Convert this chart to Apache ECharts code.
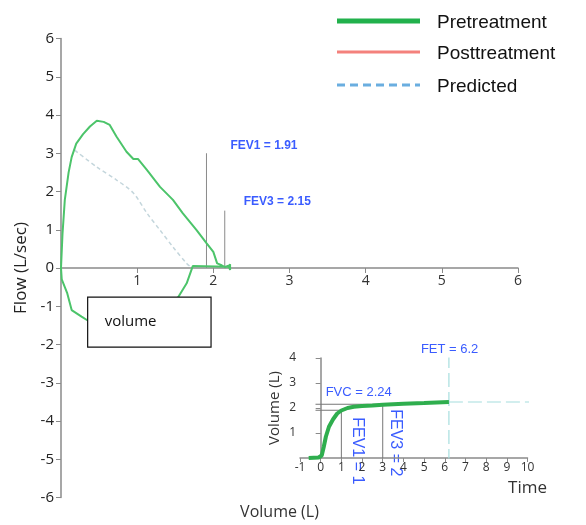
<!DOCTYPE html>
<html><head><meta charset="utf-8">
<script src="https://cdn.jsdelivr.net/npm/echarts@6/dist/echarts.min.js"></script>
<style>html,body{margin:0;padding:0;background:#fff}#c{width:586px;height:525px}</style>
</head><body><div id="c"></div>
<script>
// ---- data ----
var flowTicksY = [-6,-5,-4,-3,-2,-1,0,1,2,3,4,5,6];
var flowTicksX = [0,1,2,3,4,5,6];
// Pretreatment flow-volume loop [volume L, flow L/s]
var preLoopVol  = [0,0.02,0.05,0.1,0.14,0.2,0.29,0.38,0.47,0.56,0.64,0.73,0.86,0.95,1.01,1.13,1.3,1.47,1.6,1.78,1.91,2.0,2.05,2.1,2.15,2.2,2.22,2.22,2.2,
                   1.73,1.65,1.54,1.3,1.0,0.6,0.34,0.27,0.14,0.08,0.01,0];
var preLoopFlow = [0,0.9,1.78,2.5,2.9,3.25,3.5,3.7,3.85,3.82,3.74,3.43,3.04,2.85,2.85,2.56,2.12,1.78,1.43,0.99,0.65,0.42,0.12,0.08,0.02,0.06,-0.05,0.1,0.03,
                   0.05,-0.4,-0.76,-1.1,-1.4,-1.45,-1.36,-1.27,-1.1,-0.65,-0.3,0];
// Predicted flow-volume
var predVol  = [0.18,0.47,0.73,0.95,1.13,1.3,1.47,1.65,1.72];
var predFlow = [3.08,2.64,2.3,1.96,1.43,0.99,0.55,0.12,0];
// FEV markers in flow-volume plot
var fevLabels = ['FEV1 = 1.91','FEV3 = 2.15'];
var fevVol    = [1.91,2.15];
var fevHeight = [3.0,1.5];
// Volume-time inset
var timeTicks = [-1,0,1,2,3,4,5,6,7,8,9,10];
var volTicks  = [0,1,2,3,4];
var vtTime = [-0.58,-0.1,0.05,0.15,0.25,0.4,0.6,0.8,1.0,1.3,1.6,2.0,2.5,3,4,5,6.2];
var vtVol  = [0,0.02,0.1,0.45,0.85,1.25,1.55,1.78,1.9,2.0,2.05,2.08,2.1,2.13,2.17,2.2,2.24];
var fev1 = {t:1, v:1.91, label:'FEV1 = 1'};
var fev3 = {t:3, v:2.15, label:'FEV3 = 2'};
var fvc = {v:2.24, label:'FVC = 2.24'};
var fet = {t:6.2, label:'FET = 6.2'};
var legendNames = ['Pretreatment','Posttreatment','Predicted'];
var legendColors = ['#22b14c','#f4817c','#6aaee0'];

function zip(a,b){return a.map(function(v,i){return [v,b[i]];});}

var chart = echarts.init(document.getElementById('c'));
var BLUE = '#3a5cff';
var FONT = '"Open Sans", sans-serif';
var ARIAL = '"Liberation Sans", Arial, sans-serif';
var MAIN_H = 459;
var option = {
  animation:false,
  grid:[
    {left:61, top:38.5, width:457, height:MAIN_H, containLabel:false, outerBoundsMode:'none'},
    {left:300, top:358, width:227.5, height:100, containLabel:false, outerBoundsMode:'none'}
  ],
  xAxis:[
    {gridIndex:0,type:'value',min:0,max:6,interval:1,position:'bottom',offset:-MAIN_H/2,
     axisLine:{onZero:false,lineStyle:{color:'#8a8a8a',width:1.5}},
     axisTick:{length:5,lineStyle:{color:'#8a8a8a'}},
     axisLabel:{color:'#333',fontSize:14,fontFamily:FONT,margin:6,formatter:function(v){return v===0?'':String(v);}},
     splitLine:{show:false},
     name:'Volume (L)',nameLocation:'middle',nameGap:236,
     nameTextStyle:{color:'#333',fontSize:16,fontFamily:FONT,padding:[0,20,0,0]}},
    {gridIndex:1,type:'value',min:-1,max:10,interval:1,
     axisLine:{onZero:true,lineStyle:{color:'#8a8a8a',width:1.5}},
     axisTick:{length:4,lineStyle:{color:'#8a8a8a'}},
     axisLabel:{color:'#333',fontSize:12,fontFamily:FONT,margin:4},
     splitLine:{show:false},
     name:'Time',nameLocation:'end',nameGap:0,
     nameTextStyle:{color:'#333',fontSize:17,fontFamily:FONT,align:'center',verticalAlign:'top',padding:[22,0,0,0]}}
  ],
  yAxis:[
    {gridIndex:0,type:'value',min:-6,max:6,interval:1,
     axisLine:{show:true,onZero:false,lineStyle:{color:'#8a8a8a',width:1.5}},
     axisTick:{show:true,length:5,lineStyle:{color:'#8a8a8a'}},
     axisLabel:{color:'#222',fontSize:15,fontFamily:FONT,margin:7},
     splitLine:{show:false},
     name:'Flow (L/sec)',nameLocation:'middle',nameGap:26,nameRotate:90,
     nameTextStyle:{color:'#222',fontSize:17,fontFamily:FONT}},
    {gridIndex:1,type:'value',min:0,max:4,interval:1,
     axisLine:{show:true,onZero:true,lineStyle:{color:'#8a8a8a',width:1.5}},
     axisTick:{show:true,length:5,lineStyle:{color:'#8a8a8a'}},
     axisLabel:{color:'#333',fontSize:12,fontFamily:FONT,margin:4,formatter:function(v){return v===0?'':String(v);}},
     splitLine:{show:false},
     name:'Volume (L)',nameLocation:'middle',nameGap:18,nameRotate:90,
     nameTextStyle:{color:'#333',fontSize:15,fontFamily:FONT}}
  ],
  series:[
    {type:'line',xAxisIndex:0,yAxisIndex:0,data:zip(predVol,predFlow),showSymbol:false,smooth:0.3,
     lineStyle:{color:'#c4d6dc',width:1.5,type:[4,3]},z:2},
    {type:'line',xAxisIndex:0,yAxisIndex:0,data:zip(preLoopVol,preLoopFlow),showSymbol:false,
     lineStyle:{color:'#4cc46a',width:2},z:3},
    {type:'line',xAxisIndex:0,yAxisIndex:0,data:[[fevVol[0],0],[fevVol[0],fevHeight[0]]],showSymbol:false,
     lineStyle:{color:'#8a8a8a',width:1},z:2},
    {type:'line',xAxisIndex:0,yAxisIndex:0,data:[[fevVol[1],0],[fevVol[1],fevHeight[1]]],showSymbol:false,
     lineStyle:{color:'#8a8a8a',width:1},z:2},
    // inset
    {type:'line',xAxisIndex:1,yAxisIndex:1,data:[[-0.25,fev1.v],[fev1.t,fev1.v],[fev1.t,0]],showSymbol:false,
     lineStyle:{color:'#777',width:1},z:2},
    {type:'line',xAxisIndex:1,yAxisIndex:1,data:[[-0.25,fev3.v],[fev3.t,fev3.v],[fev3.t,0]],showSymbol:false,
     lineStyle:{color:'#777',width:1},z:2},
    {type:'line',xAxisIndex:1,yAxisIndex:1,data:[[fet.t,fvc.v],[10.3,fvc.v]],showSymbol:false,
     lineStyle:{color:'#a6dede',width:1.2,type:[14,5]},z:2},
    {type:'line',xAxisIndex:1,yAxisIndex:1,data:[[fet.t,-0.2],[fet.t,4.2]],showSymbol:false,
     lineStyle:{color:'#a6dede',width:1.2,type:[14,5]},z:2},
    {type:'line',xAxisIndex:1,yAxisIndex:1,data:zip(vtTime,vtVol),showSymbol:false,
     lineStyle:{color:'#2fae4e',width:4},z:3}
  ]
};
chart.setOption(option);

function px(gi,x,y){return chart.convertToPixel({gridIndex:gi},[x,y]);}
var g = [];
// legend
legendNames.forEach(function(n,i){
  var yy = [21,52,85][i];
  g.push({type:'line',shape:{x1:337,y1:yy,x2:420,y2:yy},
    style:{stroke:legendColors[i],lineWidth:i===0?5:3,lineDash:i===2?[8,5]:null}});
  g.push({type:'text',x:437,y:yy+2,style:{text:n,fill:'#111',font:'19px '+ARIAL,textVerticalAlign:'middle',verticalAlign:'middle'}});
});
function txt(x,y,s,font,extra){
  var o={type:'text',x:x,y:y,style:{text:s,fill:BLUE,font:font+' '+ARIAL,textVerticalAlign:'middle',verticalAlign:'middle'}};
  if(extra){for(var k in extra)o[k]=extra[k];}
  g.push(o);
}
// FEV labels main
var p1 = px(0,fevVol[0],fevHeight[0]);
txt(p1[0]+24,p1[1]-8,fevLabels[0],'bold 12px');
var p2 = px(0,fevVol[1],fevHeight[1]);
txt(p2[0]+19,p2[1]-9,fevLabels[1],'bold 12px');
// volume box
var b1 = px(0,0.35,-0.76), b2 = px(0,1.97,-2.07);
g.push({type:'rect',z:100,shape:{x:b1[0],y:b1[1],width:b2[0]-b1[0],height:b2[1]-b1[1]},
  style:{fill:'#fff',stroke:'#111',lineWidth:1.2}});
g.push({type:'text',z:101,x:b1[0]+17,y:b1[1]+25,style:{text:'volume',fill:'#111',font:'15px '+FONT,textVerticalAlign:'middle',verticalAlign:'middle'}});
// inset labels
var pf = px(1,fet.t,4);
txt(pf[0]-28,pf[1]-9,fet.label,'13px');
var pv = px(1,0,fvc.v);
txt(pv[0]+5,pv[1]-10,fvc.label,'13px');
var pe1 = px(1,fev1.t,fev1.v);
txt(pe1[0]+16,pe1[1]+7,fev1.label,'16px',{rotation:-Math.PI/2});
var pe3 = px(1,fev3.t,fev3.v);
txt(pe3[0]+13,pe3[1]+5,fev3.label,'16px',{rotation:-Math.PI/2});
chart.setOption({graphic:g});
</script>
</body></html>
